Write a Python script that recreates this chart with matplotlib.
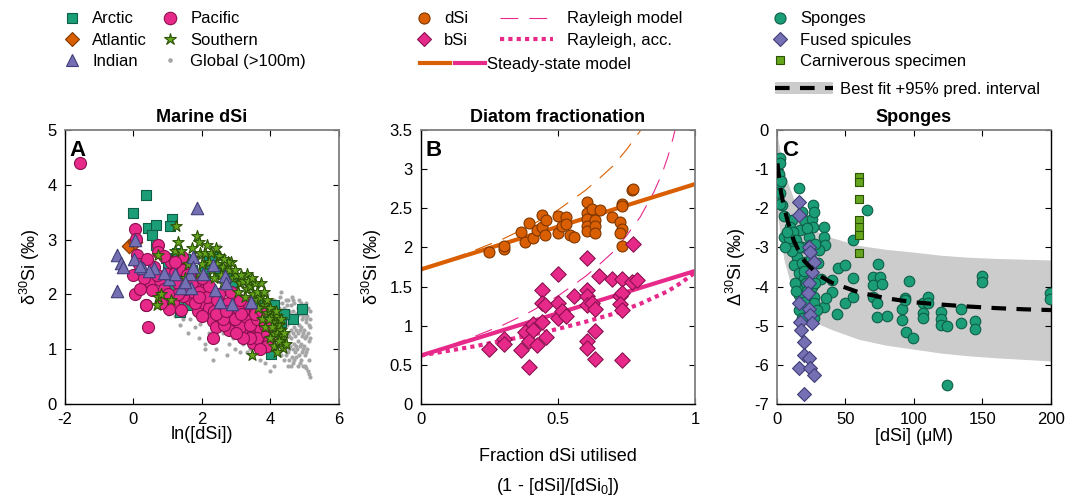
import numpy as np
import matplotlib.pyplot as plt
import matplotlib.ticker as mtick
from matplotlib.lines import Line2D
from matplotlib.patches import Patch
from matplotlib.legend_handler import HandlerTuple

plt.rcParams['font.family'] = ['Liberation Sans', 'DejaVu Sans']
plt.rcParams['mathtext.fontset'] = 'custom'
plt.rcParams['mathtext.rm'] = 'Liberation Sans'
plt.rcParams['mathtext.it'] = 'Liberation Sans:italic'
plt.rcParams['mathtext.default'] = 'regular'
plt.rcParams['axes.unicode_minus'] = False

# ---------------- panel A : marine dSi (ln[dSi], d30Si) ----------------
arctic = [(0.37, 3.82), (-0.02, 3.48), (0.43, 3.21), (0.67, 3.26), (0.55, 3.08), (1.12, 3.38),
          (1.07, 3.25), (0.66, 2.91), (0.94, 2.66), (1.27, 2.75), (1.4, 2.5), (1.58, 2.58),
          (1.85, 2.3), (2.2, 2.64), (2.4, 2.5), (2.7, 2.3), (2.88, 2.22), (1.36, 1.68), (1.33, 1.8),
          (1.6, 1.8), (3.4, 1.72), (3.7, 1.7), (4.26, 1.62), (4.3, 1.5), (4.92, 1.74), (4.65, 1.55),
          (4.02, 0.91), (3.95, 1.75), (1.1, 2.1), (2.05, 2.45), (3.9, 1.6), (4.1, 1.8), (4.4, 1.65),
          (3.6, 1.85), (1.5, 2.65), (1.7, 2.45), (2.1, 2.3), (2.3, 2.7), (2.5, 2.4), (1.0, 2.55)]
atlantic = [(-0.13, 2.89), (0.85, 2.05), (0.05, 2.95)]
indian = [(1.84, 3.57), (-0.49, 2.72), (-0.35, 2.57), (-0.32, 2.5), (0.04, 3.0), (0.01, 2.64),
          (-0.47, 2.07), (0.29, 2.48), (0.6, 2.48), (1.03, 2.29), (1.2, 2.37), (1.38, 2.11),
          (1.67, 2.11), (1.64, 2.37), (1.75, 2.68), (1.75, 2.5), (2.02, 2.37), (2.31, 2.54),
          (2.38, 2.08), (2.53, 1.87), (2.67, 2.34), (2.7, 2.2), (2.88, 1.82), (3.42, 1.87),
          (0.9, 2.4), (0.45, 2.42), (0.2, 2.52), (1.5, 2.22)]
pacific = [(-1.56, 4.40), (0.03, 3.2), (0.08, 3.02), (0.11, 2.72), (-0.02, 2.35), (0.03, 2.0),
           (0.37, 1.81), (0.42, 1.40), (0.72, 2.90), (0.72, 2.78), (0.48, 2.22), (0.55, 2.08),
           (1.11, 2.60), (1.41, 2.69), (1.65, 1.92), (1.87, 1.70), (2.07, 1.84), (2.31, 1.51),
           (2.41, 1.41), (2.31, 1.20), (2.72, 1.65), (2.79, 1.50), (2.79, 1.35), (3.16, 1.53),
           (3.30, 1.32), (3.50, 1.29), (3.48, 1.11), (3.74, 1.12), (3.67, 1.46), (3.80, 1.25),
           (3.45, 1.62), (3.30, 1.70), (3.0, 1.62), (2.6, 1.8), (2.3, 1.9), (2.07, 2.0), (1.74, 2.05),
           (1.44, 1.98), (1.15, 1.85), (1.05, 1.73), (1.4, 1.72), (0.77, 2.26), (0.97, 2.38),
           (1.2, 2.4), (1.45, 2.45), (1.68, 2.3), (1.92, 2.26), (2.1, 2.1), (2.5, 2.0), (2.9, 1.9),
           (3.3, 1.55), (3.55, 1.42), (3.7, 1.38), (0.36, 1.81), (0.9, 2.1), (1.3, 2.2), (1.6, 2.15),
           (1.8, 1.85), (2.2, 1.75), (2.5, 1.6), (2.85, 1.75), (3.1, 1.4), (3.6, 1.2), (3.9, 1.3),
           (0.6, 2.5), (0.3, 2.3), (0.15, 2.55), (2.0, 1.6), (2.65, 1.45), (3.2, 1.7),
           (1.5, 2.1), (1.7, 2.2), (1.9, 2.05), (2.15, 1.95), (2.35, 1.7), (2.55, 1.75), (2.75, 1.85),
           (2.95, 1.55), (3.05, 1.75), (3.15, 1.65), (3.4, 1.45), (3.6, 1.55), (3.85, 1.45),
           (3.95, 1.15), (3.9, 1.05), (3.7, 1.0), (3.4, 1.2), (3.2, 1.2), (3.0, 1.3), (2.6, 1.55),
           (2.4, 1.65), (1.9, 1.95), (1.3, 2.0), (1.0, 2.0), (0.8, 1.85), (1.55, 2.35), (2.2, 2.15),
           (2.45, 1.9), (2.7, 1.7), (3.35, 1.85), (1.2, 2.6), (0.9, 2.7), (0.4, 2.65), (0.2, 2.1),
           (0.7, 2.35), (2.0, 2.3), (2.85, 2.05), (3.55, 1.65), (3.75, 1.7), (3.1, 1.9)]
southern = [(1.24, 3.24), (1.84, 3.07), (1.9, 2.96), (1.95, 2.75), (1.2, 2.8), (1.4, 2.8), (0.72, 2.72),
            (2.53, 2.69), (2.84, 2.6), (3.3, 2.37), (3.71, 2.2), (3.45, 0.89), (4.37, 1.02), (4.3, 1.15),
            (4.1, 1.27), (3.9, 1.66), (0.68, 1.81), (0.73, 1.96), (1.1, 1.9), (2.5, 2.7), (2.2, 2.6),
            (2.3, 2.45), (2.45, 2.55), (2.6, 2.5), (2.7, 2.4), (2.8, 2.45), (2.9, 2.3), (3.0, 2.35),
            (3.1, 2.2), (3.2, 2.25), (3.3, 2.1), (3.4, 2.15), (3.5, 2.0), (3.6, 1.9), (3.7, 1.95),
            (3.8, 1.8), (3.9, 1.9), (4.0, 1.75), (4.05, 1.6), (4.1, 1.5), (4.15, 1.4), (4.2, 1.3),
            (4.25, 1.45), (4.3, 1.35), (4.35, 1.25), (4.2, 1.6), (4.1, 1.05), (4.0, 1.2), (3.85, 1.4),
            (3.75, 1.55), (2.1, 2.75), (2.0, 2.55), (1.9, 2.4), (1.6, 2.55), (1.7, 2.85), (2.35, 2.3),
            (2.6, 2.2), (3.05, 2.05), (3.25, 1.95), (1.5, 2.3), (0.8, 2.0), (2.15, 2.9), (2.75, 2.6),
            (3.55, 2.2), (4.3, 1.55), (2.25, 2.75), (2.55, 2.35), (2.65, 2.65), (2.95, 2.45),
            (3.15, 2.35), (3.35, 2.25), (3.45, 2.3), (3.6, 2.05), (3.8, 2.05), (3.95, 1.55),
            (4.05, 1.4), (4.15, 1.7), (4.25, 1.15), (4.4, 1.3), (4.45, 1.1), (4.2, 0.95), (3.65, 1.75),
            (1.3, 2.95), (1.8, 2.65), (2.4, 2.85)]
glob = [(1.6, 1.3), (1.45, 1.55), (1.65, 1.55), (1.95, 1.46), (2.1, 1.1), (3.2, 1.1), (2.45, 1.16),
        (2.33, 0.8), (2.08, 1.0), (2.73, 0.9), (2.96, 1.0), (2.5, 2.88), (3.9, 2.0), (4.5, 1.9),
        (3.98, 0.6), (4.1, 0.7), (1.2, 1.6), (1.0, 1.65), (1.8, 1.4), (2.6, 1.3), (2.9, 1.2),
        (3.4, 1.0), (3.6, 1.05), (3.1, 0.95), (2.2, 1.3), (1.35, 1.45), (3.75, 0.95), (3.85, 0.75),
        (2.0, 2.65), (2.3, 2.8),
        (4.2, 1.0), (4.22, 1.3), (4.18, 1.6), (4.21, 1.85),
        (4.3, 0.9), (4.32, 1.1), (4.28, 1.4), (4.31, 1.7), (4.29, 1.95),
        (4.4, 0.8), (4.42, 1.0), (4.38, 1.2), (4.41, 1.5), (4.39, 1.75),
        (4.5, 0.7), (4.52, 0.95), (4.48, 1.1), (4.51, 1.3), (4.49, 1.45), (4.53, 1.6), (4.47, 1.8),
        (4.6, 0.7), (4.62, 0.85), (4.58, 1.05), (4.61, 1.2), (4.59, 1.35), (4.63, 1.5), (4.57, 1.65),
        (4.6, 1.8), (4.62, 1.95),
        (4.7, 0.8), (4.72, 0.95), (4.68, 1.1), (4.71, 1.25), (4.69, 1.4), (4.73, 1.55), (4.67, 1.7),
        (4.7, 1.85),
        (4.8, 0.7), (4.82, 0.9), (4.78, 1.0), (4.81, 1.15), (4.79, 1.3), (4.83, 1.45), (4.77, 1.6),
        (4.8, 1.75), (4.82, 1.9),
        (4.9, 0.8), (4.92, 0.95), (4.88, 1.1), (4.91, 1.25), (4.89, 1.4), (4.93, 1.55), (4.87, 1.7),
        (4.9, 1.85),
        (5.0, 0.7), (5.02, 0.9), (4.98, 1.05), (5.01, 1.2), (4.99, 1.35), (5.03, 1.5), (4.97, 1.65),
        (5.0, 1.8),
        (5.1, 0.6), (5.12, 0.8), (5.08, 1.0), (5.11, 1.15), (5.09, 1.3), (5.13, 1.45), (5.07, 1.6),
        (5.1, 1.75),
        (5.15, 0.5), (5.14, 1.2), (5.16, 1.4), (5.15, 1.55), (5.14, 1.7),
        (4.25, 1.15), (4.25, 1.45), (4.25, 1.75), (4.35, 1.0), (4.35, 1.3), (4.35, 1.6), (4.35, 1.85),
        (4.45, 0.9), (4.45, 1.25), (4.45, 1.55), (4.45, 1.9), (4.55, 0.8), (4.55, 1.0), (4.55, 1.25),
        (4.55, 1.55), (4.55, 1.7), (4.65, 0.75), (4.65, 1.0), (4.65, 1.3), (4.65, 1.6), (4.65, 1.9),
        (4.75, 0.85), (4.75, 1.05), (4.75, 1.35), (4.75, 1.65), (4.85, 0.75), (4.85, 1.05),
        (4.85, 1.35), (4.85, 1.65), (4.95, 0.7), (4.95, 1.0), (4.95, 1.3), (4.95, 1.6), (5.05, 0.65),
        (5.05, 0.95), (5.05, 1.25), (5.05, 1.55), (5.05, 1.85), (5.12, 0.55), (4.0, 1.45),
        (4.05, 1.2), (3.95, 0.95), (3.7, 0.8), (3.5, 0.85), (3.3, 0.95), (2.8, 1.1), (2.4, 1.0),
        (1.9, 1.2), (4.1, 1.9), (4.3, 2.05)]

# ---------------- panel B : diatom fractionation ----------------
b_dsi = [(0.249, 1.94), (0.304, 1.98), (0.304, 2.02), (0.380, 2.07), (0.365, 2.20), (0.395, 2.31),
         (0.410, 2.12), (0.422, 2.22), (0.440, 2.41), (0.440, 2.26), (0.453, 2.16), (0.456, 2.35),
         (0.499, 2.40), (0.499, 2.19), (0.513, 2.27), (0.529, 2.39), (0.529, 2.30), (0.544, 2.16),
         (0.560, 2.13), (0.605, 2.58), (0.605, 2.44), (0.605, 2.36), (0.605, 2.27), (0.605, 2.21),
         (0.623, 2.49), (0.635, 2.35), (0.635, 2.27), (0.635, 2.18), (0.653, 2.48), (0.696, 2.39),
         (0.726, 2.33), (0.735, 2.56), (0.735, 2.53), (0.732, 2.24), (0.726, 2.18), (0.735, 2.02),
         (0.769, 2.73), (0.773, 2.75)]
b_bsi = [(0.249, 0.70), (0.304, 0.83), (0.304, 0.77), (0.365, 0.69), (0.380, 0.92), (0.395, 0.80),
         (0.395, 0.47), (0.410, 1.02), (0.410, 0.94), (0.422, 0.76), (0.440, 1.46), (0.440, 1.29),
         (0.440, 1.05), (0.453, 1.27), (0.456, 0.86), (0.499, 1.66), (0.499, 1.29), (0.499, 1.10),
         (0.513, 1.19), (0.529, 1.12), (0.560, 1.38), (0.605, 1.87), (0.605, 1.46), (0.605, 1.38),
         (0.605, 1.27), (0.605, 0.80), (0.605, 0.71), (0.623, 1.29), (0.635, 1.22), (0.635, 0.93),
         (0.635, 0.57), (0.651, 1.63), (0.696, 1.60), (0.735, 1.60), (0.726, 1.38), (0.735, 1.42),
         (0.726, 1.28), (0.735, 1.20), (0.735, 0.56), (0.769, 1.56), (0.787, 1.58), (0.773, 2.04)]
# model curves
ss_f = [0.0, 1.0]
ss_dsi = [1.72, 2.81]
ss_bsi = [0.62, 1.70]
ray_f_dsi = [0.0, 0.1, 0.2, 0.3, 0.4, 0.5, 0.6, 0.65, 0.7, 0.75, 0.8, 0.81]
ray_dsi = [1.72, 1.84, 1.97, 2.11, 2.28, 2.48, 2.73, 2.88, 3.04, 3.25, 3.49, 3.55]
ray_f_bsi = [0.0, 0.1, 0.2, 0.3, 0.4, 0.5, 0.6, 0.65, 0.7, 0.75, 0.8, 0.85, 0.88, 0.9, 0.92, 0.93]
ray_bsi = [0.62, 0.74, 0.87, 1.01, 1.18, 1.38, 1.63, 1.78, 1.94, 2.15, 2.39, 2.71, 2.95, 3.15, 3.40, 3.55]
acc_f = [0.0, 0.1, 0.2, 0.3, 0.4, 0.5, 0.6, 0.7, 0.8, 0.9, 0.95, 1.0]
acc_bsi = [0.62, 0.68, 0.74, 0.81, 0.88, 0.96, 1.05, 1.15, 1.28, 1.44, 1.55, 1.68]

# ---------------- panel C : sponges ----------------
sponges = [(1.9, -0.72), (2.4, -0.85), (1.2, -1.11), (2.4, -1.36), (1.9, -1.62), (3.6, -1.92),
           (15.8, -1.49), (26.2, -1.92), (10.9, -2.30), (9.7, -2.47), (4.8, -2.73), (12.1, -2.90),
           (17.0, -2.56), (19.4, -2.30), (25.5, -2.26), (26.2, -2.47), (34.0, -2.47), (34.0, -2.73),
           (35.2, -2.94), (23.0, -2.73), (24.2, -2.94), (30.3, -3.07), (18.2, -2.98), (14.5, -3.24),
           (20.6, -3.36), (12.1, -3.45), (15.8, -3.66), (19.4, -3.79), (15.8, -3.96), (15.8, -4.22),
           (17.0, -4.43), (24.2, -3.58), (25.5, -4.00), (26.7, -4.26), (26.7, -4.43), (34.0, -4.51),
           (24.2, -4.73), (26.7, -4.81), (40.0, -3.83), (40.0, -4.13), (44.8, -3.53), (49.7, -3.45),
           (49.7, -4.43), (55.8, -3.79), (55.8, -4.26), (55.8, -2.81), (65.5, -2.03), (74.0, -3.41),
           (70.3, -3.75), (75.2, -3.75), (70.3, -3.96), (76.4, -3.94), (70.3, -4.26), (72.7, -4.43),
           (72.7, -4.77), (80.0, -4.75), (93.3, -4.30), (91.0, -4.56), (91.0, -4.86), (94.5, -5.15),
           (96.7, -3.85), (93.1, -4.33), (99.6, -5.32), (106.9, -4.43), (110.0, -4.27), (110.0, -4.41),
           (106.9, -4.68), (106.9, -4.79), (119.8, -4.64), (119.8, -4.84), (119.8, -4.98),
           (124.3, -5.01), (124.3, -6.52), (134.0, -4.56), (134.0, -4.92), (144.7, -4.87),
           (144.7, -5.08), (149.6, -3.73), (149.6, -3.87), (199.0, -4.17), (199.0, -4.31),
           (12, -2.6), (14, -2.8), (16, -3.0), (18, -3.4), (20, -3.6), (21, -3.9), (22, -4.1),
           (13, -3.9), (14, -4.1), (16, -4.6), (18, -4.8), (20, -4.4), (22, -2.5), (28, -2.9),
           (30, -3.4), (32, -3.8), (28, -3.9), (29, -4.6), (11, -3.1), (9, -2.75), (7, -2.6),
           (5, -2.2), (6, -3.0), (25, -3.3), (27, -2.1), (18, -2.1), (3, -1.3), (2, -1.9),
           (36, -4.3), (44, -4.7)]
fused = [(15.8, -1.83), (15.8, -2.17), (23.0, -2.98), (24.2, -3.11), (26.7, -3.36), (25.5, -3.62),
         (23.0, -3.92), (22.3, -4.16), (15.8, -4.43), (23.0, -4.56), (24.2, -4.73), (25.5, -4.94),
         (17.0, -4.90), (17.5, -5.11), (19.4, -5.41), (19.9, -5.75), (23.0, -5.83), (15.8, -6.09),
         (24.2, -6.09), (26.7, -6.26), (19.9, -6.75)]
carniv = [(59.9, -1.19), (59.9, -1.32), (59.9, -1.76), (59.9, -2.30), (59.9, -2.47), (59.9, -2.67),
          (59.9, -3.15)]
fit_x = [0.3, 1, 2, 3, 5, 8, 12, 16, 20, 30, 40, 60, 80, 100, 120, 140, 160, 180, 200]
fit_y = [-0.85, -1.05, -1.35, -1.6, -1.95, -2.35, -2.8, -3.1, -3.35, -3.7, -3.9, -4.15, -4.3,
         -4.4, -4.46, -4.51, -4.55, -4.58, -4.6]
band_x = [0, 1, 2, 5, 10, 15, 20, 30, 40, 60, 80, 100, 120, 140, 160, 180, 200]
band_hi = [0.0, -0.3, -0.5, -1.05, -1.55, -2.0, -2.3, -2.6, -2.75, -2.95, -3.05, -3.12, -3.2,
           -3.25, -3.28, -3.3, -3.32]
band_lo = [-2.0, -2.3, -2.6, -3.3, -3.95, -4.4, -4.65, -4.95, -5.1, -5.35, -5.5, -5.6, -5.7,
           -5.77, -5.82, -5.86, -5.9]

TEAL, ORANGE, PURPLE, PINK, GREEN = '#1b9e77', '#d95f02', '#7570b3', '#e7298a', '#66a61e'
E_TEAL, E_ORANGE, E_PURPLE, E_PINK, E_GREEN = '#0e5e47', '#7f3700', '#413d78', '#8a1150', '#2c5208'
GREY = '#7f7f7f'


def xy(pts):
    a = np.array(pts)
    return a[:, 0], a[:, 1]


def frame(ax, cols):
    # cols: left, right, top, bottom spine colours
    for side, c in zip(['left', 'right', 'top', 'bottom'], cols):
        ax.spines[side].set_color(c)
        ax.spines[side].set_linewidth(1.3 if c != 'k' else 1.0)
    ax.tick_params(direction='in', top=True, right=True, length=4, labelsize=12, pad=6)


fig = plt.figure(figsize=(10.67, 4.98), dpi=100)
axA = fig.add_axes([0.0609, 0.1888, 0.2568, 0.550])
axB = fig.add_axes([0.3946, 0.1888, 0.2568, 0.550])
axC = fig.add_axes([0.7282, 0.1888, 0.2568, 0.550])

# ---- A
x, y = xy(glob)
axA.scatter(x, y, s=9, color='#a6a6a6', lw=0, zorder=2)
x, y = xy(arctic)
axA.scatter(x, y, s=45, marker='s', color=TEAL, edgecolors=E_TEAL, lw=0.8, zorder=3)
x, y = xy(atlantic)
axA.scatter(x, y, s=55, marker='D', color=ORANGE, edgecolors=E_ORANGE, lw=0.8, zorder=3)
x, y = xy(pacific)
axA.scatter(x, y, s=75, marker='o', color=PINK, edgecolors=E_PINK, lw=0.8, zorder=4)
x, y = xy(southern)
axA.scatter(x, y, s=75, marker='*', color=GREEN, edgecolors=E_GREEN, lw=0.8, zorder=5)
x, y = xy(indian)
axA.scatter(x, y, s=80, marker='^', color=PURPLE, edgecolors=E_PURPLE, lw=0.8, zorder=6)
axA.set_xlim(-2, 6)
axA.set_ylim(0, 5)
axA.set_xticks([-2, 0, 2, 4, 6])
axA.set_yticks([0, 1, 2, 3, 4, 5])
axA.set_xlabel('ln([dSi])', fontsize=13, labelpad=-1)
axA.set_ylabel('δ$^{30}$Si (‰)', fontsize=13)
axA.set_title('Marine dSi', fontsize=13, fontweight='bold')
axA.text(0.018, 0.965, 'A', transform=axA.transAxes, fontsize=16, fontweight='bold', va='top')
frame(axA, ['k', GREY, GREY, 'k'])

# ---- B
axB.plot(ss_f, ss_dsi, color=ORANGE, lw=3, zorder=2)
axB.plot(ss_f, ss_bsi, color=PINK, lw=3, zorder=2)
axB.plot(ray_f_dsi, ray_dsi, color=ORANGE, lw=0.8, ls=(0, (16, 10)), zorder=2)
axB.plot(ray_f_bsi, ray_bsi, color=PINK, lw=0.8, ls=(0, (16, 10)), zorder=2)
axB.plot(acc_f, acc_bsi, color=PINK, lw=3, ls=(0, (1, 1)), zorder=2)
x, y = xy(b_dsi)
axB.scatter(x, y, s=62, marker='o', color=ORANGE, edgecolors=E_ORANGE, lw=0.8, zorder=3)
x, y = xy(b_bsi)
axB.scatter(x, y, s=62, marker='D', color=PINK, edgecolors=E_PINK, lw=0.8, zorder=3)
axB.set_xlim(0, 1)
axB.set_ylim(0, 3.5)
axB.set_xticks([0, 0.5, 1])
axB.set_yticks(np.arange(0, 3.51, 0.5))
axB.xaxis.set_major_formatter(mtick.FormatStrFormatter('%g'))
axB.yaxis.set_major_formatter(mtick.FormatStrFormatter('%g'))
axB.set_xlabel('Fraction dSi utilised\n(1 - [dSi]/[dSi$_0$])', fontsize=13, linespacing=1.75,
               labelpad=15)
axB.set_ylabel('δ$^{30}$Si (‰)', fontsize=13)
axB.set_title('Diatom fractionation', fontsize=13, fontweight='bold')
axB.text(0.018, 0.965, 'B', transform=axB.transAxes, fontsize=16, fontweight='bold', va='top')
frame(axB, ['k', GREY, GREY, 'k'])

# ---- C
axC.fill_between(band_x, band_lo, band_hi, color='#cccccc', lw=0, zorder=1)
x, y = xy(sponges)
axC.scatter(x, y, s=58, marker='o', color=TEAL, edgecolors=E_TEAL, lw=0.8, zorder=3)
x, y = xy(fused)
axC.scatter(x, y, s=50, marker='D', color=PURPLE, edgecolors=E_PURPLE, lw=0.8, zorder=4)
x, y = xy(carniv)
axC.scatter(x, y, s=38, marker='s', color=GREEN, edgecolors=E_GREEN, lw=0.8, zorder=4)
axC.plot(fit_x, fit_y, color='k', lw=3, ls=(0, (3.5, 2.5)), zorder=5)
axC.set_xlim(0, 200)
axC.set_ylim(-7, 0)
axC.set_xticks([0, 50, 100, 150, 200])
axC.set_yticks(range(-7, 1))
axC.set_xlabel('[dSi] ($\\mu$M)', fontsize=13, labelpad=-1)
axC.set_ylabel('Δ$^{30}$Si (‰)', fontsize=13)
axC.set_title('Sponges', fontsize=13, fontweight='bold')
axC.text(0.018, 0.965, 'C', transform=axC.transAxes, fontsize=16, fontweight='bold', va='top')
frame(axC, [GREY, 'k', GREY, 'k'])


# ---- legends
def mk(marker, fc, ec, ms):
    return Line2D([], [], ls='', marker=marker, mfc=fc, mec=ec, ms=ms, mew=0.8)


lkw = dict(frameon=False, fontsize=12, borderpad=0, borderaxespad=0, labelspacing=0.38,
           loc='upper left')

hA = [mk('s', TEAL, E_TEAL, 7), mk('D', ORANGE, E_ORANGE, 7), mk('^', PURPLE, E_PURPLE, 9),
      mk('o', PINK, E_PINK, 9), mk('*', GREEN, E_GREEN, 9), mk('o', '#a6a6a6', '#a6a6a6', 2.5)]
fig.legend(hA, ['Arctic', 'Atlantic', 'Indian', 'Pacific', 'Southern', 'Global (>100m)'],
           ncol=2, handlelength=1.0, handletextpad=0.7, columnspacing=0.88,
           bbox_to_anchor=(0.060, 0.977), **lkw)

fig.legend([mk('o', ORANGE, E_ORANGE, 8), mk('D', PINK, E_PINK, 7)], ['dSi', 'bSi'],
           handlelength=1.0, handletextpad=0.7, bbox_to_anchor=(0.3896, 0.977), **lkw)
fig.legend([Line2D([], [], color=PINK, lw=0.8, ls=(0, (16, 10))),
            Line2D([], [], color=PINK, lw=3, ls=(0, (1, 1)))],
           ['Rayleigh model', 'Rayleigh, acc.'],
           handlelength=3.2, handletextpad=0.8, bbox_to_anchor=(0.4686, 0.977), **lkw)
fig.legend([(Line2D([], [], color=ORANGE, lw=3), Line2D([], [], color=PINK, lw=3))],
           ['Steady-state model'], handlelength=3.9, handletextpad=0.1,
           handler_map={tuple: HandlerTuple(ndivide=None, pad=0.3)},
           bbox_to_anchor=(0.3935, 0.886), **lkw)

fig.legend([mk('o', TEAL, E_TEAL, 8), mk('D', PURPLE, E_PURPLE, 7), mk('s', GREEN, E_GREEN, 6)],
           ['Sponges', 'Fused spicules', 'Carniverous specimen'],
           handlelength=1.0, handletextpad=0.7, bbox_to_anchor=(0.7235, 0.977), **lkw)
fig.legend([(Patch(color='#cccccc', lw=0), Line2D([], [], color='k', lw=3, ls=(0, (3.5, 2.5))))],
           ['Best fit +95% pred. interval'], handlelength=3.5, handletextpad=0.4,
           handler_map={tuple: HandlerTuple(ndivide=1)},
           bbox_to_anchor=(0.7263, 0.836), **lkw)

fig.savefig('out.png', dpi=100)
